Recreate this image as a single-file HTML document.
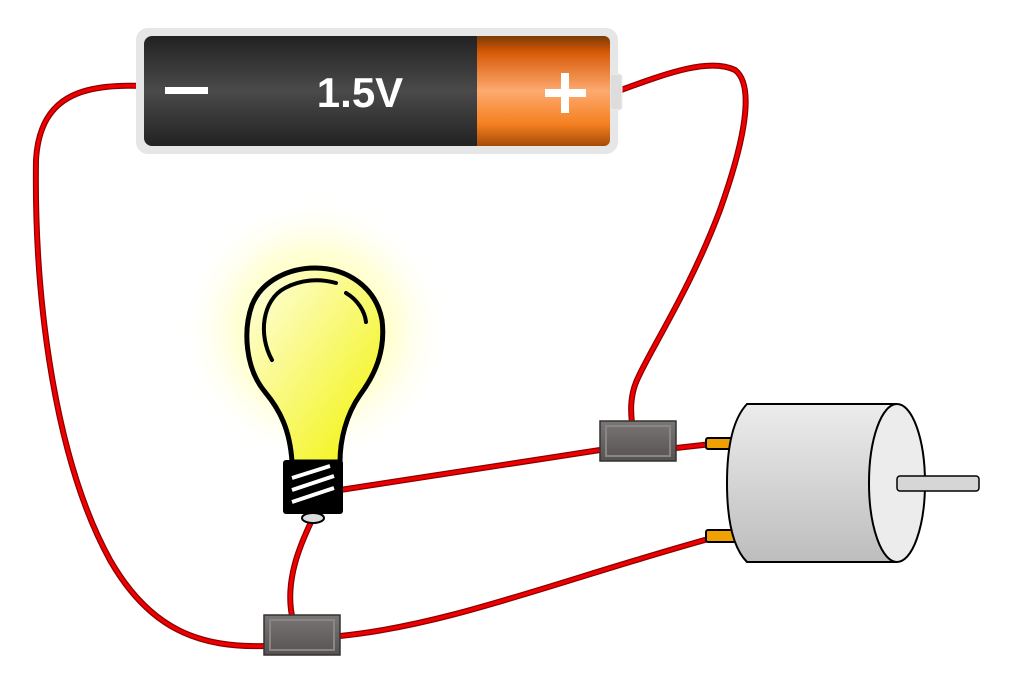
<!DOCTYPE html>
<html><head><meta charset="utf-8"><style>html,body{margin:0;padding:0;background:#fff}svg{display:block}</style></head>
<body>
<svg width="1036" height="696" viewBox="0 0 1036 696" xmlns="http://www.w3.org/2000/svg">
<defs>
<linearGradient id="blk" x1="0" y1="0" x2="0" y2="1">
<stop offset="0" stop-color="#222"/><stop offset="0.5" stop-color="#4a4a4a"/><stop offset="1" stop-color="#222"/></linearGradient>
<linearGradient id="org" x1="0" y1="0" x2="0" y2="1">
<stop offset="0" stop-color="#7a3a05"/><stop offset="0.15" stop-color="#d85a08"/><stop offset="0.5" stop-color="#fdaa70"/><stop offset="0.8" stop-color="#f5801f"/><stop offset="1" stop-color="#a54b08"/></linearGradient>
<radialGradient id="glow" cx="0.5" cy="0.5" r="0.5">
<stop offset="0" stop-color="#ffff80" stop-opacity="0.9"/><stop offset="0.6" stop-color="#ffffb0" stop-opacity="0.5"/><stop offset="1" stop-color="#fff" stop-opacity="0"/></radialGradient>
<linearGradient id="bulb" x1="0" y1="0" x2="1" y2="1">
<stop offset="0" stop-color="#ffffe8"/><stop offset="1" stop-color="#f2f200"/></linearGradient>
<linearGradient id="mot" x1="0" y1="0" x2="0" y2="1">
<stop offset="0" stop-color="#ececec"/><stop offset="1" stop-color="#bdbdbd"/></linearGradient>
<linearGradient id="conn" x1="0" y1="0" x2="0" y2="1">
<stop offset="0" stop-color="#7a7675"/><stop offset="1" stop-color="#555251"/></linearGradient>
</defs>
<circle cx="315" cy="330" r="135" fill="url(#glow)"/>
<g fill="none" stroke-linecap="round">
<g stroke="#8a0000" stroke-width="6">
<path d="M148,86 C90,84 40,90 36,160 C34,300 55,460 110,560 C150,630 200,648 266,646"/>
<path d="M621,90 C670,72 710,58 735,70 C755,85 745,140 720,210 C690,290 650,350 637,380 C628,400 632,420 632,424"/>
<path d="M340,490 L600,450"/>
<path d="M676,448 L712,444"/>
<path d="M312,520 C300,545 285,580 292,616"/>
<path d="M340,636 C450,625 560,580 712,538"/>
</g>
<g stroke="#ee0000" stroke-width="3.5">
<path d="M148,86 C90,84 40,90 36,160 C34,300 55,460 110,560 C150,630 200,648 266,646"/>
<path d="M621,90 C670,72 710,58 735,70 C755,85 745,140 720,210 C690,290 650,350 637,380 C628,400 632,420 632,424"/>
<path d="M340,490 L600,450"/>
<path d="M676,448 L712,444"/>
<path d="M312,520 C300,545 285,580 292,616"/>
<path d="M340,636 C450,625 560,580 712,538"/>
</g>
</g>
<rect x="136" y="28" width="482" height="126" rx="12" fill="#e6e6e6"/>
<rect x="610" y="74" width="12" height="36" rx="3" fill="#ddd" stroke="#eee"/>
<rect x="144" y="36" width="340" height="110" rx="8" fill="url(#blk)"/>
<rect x="477" y="36" width="133" height="110" rx="6" fill="url(#org)"/>
<rect x="477" y="36" width="10" height="110" fill="url(#org)"/>
<rect x="165" y="87" width="43" height="7" fill="#fff"/>
<text x="360" y="107" text-anchor="middle" font-family="Liberation Sans, sans-serif" font-weight="bold" font-size="42" fill="#fff">1.5V</text>
<rect x="545" y="89" width="41" height="8" fill="#fff"/>
<rect x="561" y="73" width="8" height="40" fill="#fff"/>
<path d="M292,462 C290,430 280,410 265,392 C245,368 243,330 252,305 C262,280 290,268 315,268 C348,268 376,288 382,320 C386,352 374,376 360,395 C346,415 340,440 340,462 Z" fill="url(#bulb)" stroke="#000" stroke-width="5"/>
<path d="M272,360 C258,335 262,300 285,288 C300,280 318,278 336,283" fill="none" stroke="#000" stroke-width="4" stroke-linecap="round"/>
<path d="M346,293 C358,300 365,312 366,322" fill="none" stroke="#000" stroke-width="4" stroke-linecap="round"/>
<rect x="283" y="460" width="60" height="54" rx="3" fill="#000"/>
<g stroke="#fff" stroke-width="4"><line x1="292" y1="478" x2="330" y2="466"/><line x1="292" y1="490" x2="334" y2="476"/><line x1="292" y1="502" x2="334" y2="488"/></g>
<ellipse cx="313" cy="518" rx="11" ry="5" fill="#ddd" stroke="#000" stroke-width="2"/>
<rect x="600" y="421" width="76" height="40" fill="url(#conn)" stroke="#333" stroke-width="1.5"/>
<rect x="606" y="426" width="64" height="30" fill="none" stroke="#8a8685" stroke-width="2"/>
<rect x="264" y="615" width="76" height="40" fill="url(#conn)" stroke="#333" stroke-width="1.5"/>
<rect x="270" y="620" width="64" height="30" fill="none" stroke="#8a8685" stroke-width="2"/>
<rect x="706" y="438" width="38" height="11" rx="2" fill="#f0a000" stroke="#000" stroke-width="2"/>
<rect x="706" y="530" width="38" height="12" rx="2" fill="#f0a000" stroke="#000" stroke-width="2"/>
<path d="M747,404 L896,404 L896,562 L747,562 C730,545 727,510 727,483 C727,450 732,420 747,404 Z" fill="url(#mot)" stroke="#000" stroke-width="2"/>
<ellipse cx="897" cy="483" rx="28" ry="79" fill="#ececec" stroke="#000" stroke-width="2"/>
<rect x="897" y="476" width="82" height="15" rx="3" fill="#d6d6d6" stroke="#000" stroke-width="1.5"/>
</svg>
</body></html>
